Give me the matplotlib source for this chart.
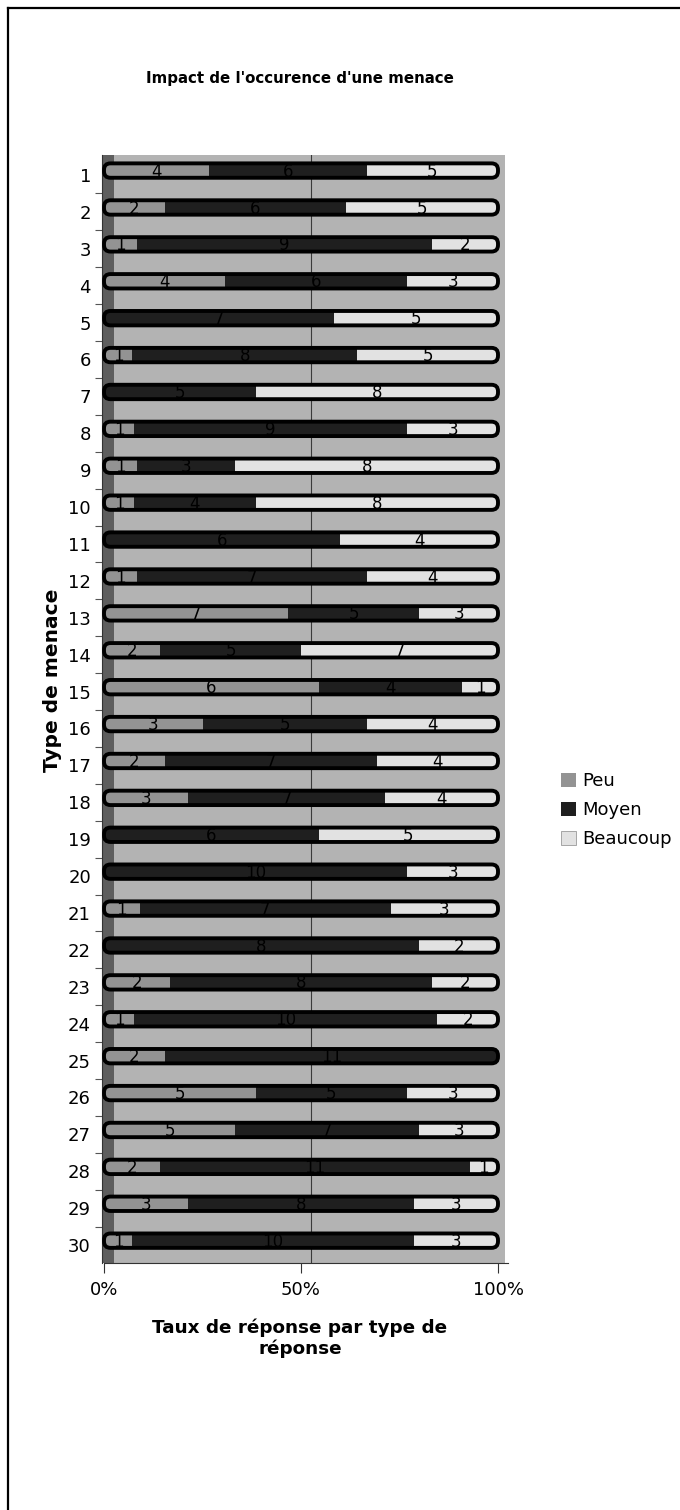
import matplotlib
matplotlib.use("Agg")
import matplotlib.pyplot as plt
from matplotlib.patches import FancyBboxPatch, Rectangle, Patch
from matplotlib.lines import Line2D

# Survey answers per threat type (counts of respondents)
types = list(range(1, 31))
peu = [4, 2, 1, 4, 0, 1, 0, 1, 1, 1, 0, 1, 7, 2, 6, 3, 2, 3, 0, 0, 1, 0, 2, 1, 2, 5, 5, 2, 3, 1]
moyen = [6, 6, 9, 6, 7, 8, 5, 9, 3, 4, 6, 7, 5, 5, 4, 5, 7, 7, 6, 10, 7, 8, 8, 10, 11, 5, 7, 11, 8, 10]
beaucoup = [5, 5, 2, 3, 5, 5, 8, 3, 8, 8, 4, 4, 3, 7, 1, 4, 4, 4, 5, 3, 3, 2, 2, 2, 0, 3, 3, 1, 3, 3]
series_names = ["Peu", "Moyen", "Beaucoup"]
x_ticks = [0, 0.5, 1.0]
x_ticklabels = ["0%", "50%", "100%"]

colors = ["#939393", "#1f1f1f", "#e2e2e2"]
wall_color = "#b3b3b3"
side_color = "#5e5e5e"

W, H, DPI = 680, 1510, 100
fig = plt.figure(figsize=(W / DPI, H / DPI), dpi=DPI)
fig.patch.set_facecolor("white")

# plot area in pixels
px_left, px_right = 102, 505
px_top, px_bottom = 155, 1263
x0_px, x1_px = 104, 498            # 0% and 100% of the bars
row1_px, row_step = 175, 36.9      # centre of category 1 and spacing

ax = fig.add_axes([px_left / W, (H - px_bottom) / H,
                   (px_right - px_left) / W, (px_bottom - px_top) / H])
xs = x1_px - x0_px
ax.set_xlim((px_left - x0_px) / xs, (px_right - x0_px) / xs)
ax.set_ylim(1 + (px_bottom - row1_px) / row_step, 1 + (px_top - row1_px) / row_step)
ax.set_facecolor("white")

ylo, yhi = ax.get_ylim()
depth = 10 / xs
# back wall and left side wall of the 3D box
ax.add_patch(Rectangle((depth, yhi), 1 + 0.5 * depth, ylo - yhi,
                       facecolor=wall_color, edgecolor="none", zorder=0))
ax.add_patch(Rectangle((ax.get_xlim()[0], yhi), depth - ax.get_xlim()[0], ylo - yhi,
                       facecolor=side_color, edgecolor="none", zorder=0.5))
ax.axvline(0.5 + depth, color="#3a3a3a", lw=0.8, zorder=0.6)

# stacked 100% bars
n = len(types)
totals = [peu[i] + moyen[i] + beaucoup[i] for i in range(n)]
fracs = [[s[i] / totals[i] for i in range(n)] for s in (peu, moyen, beaucoup)]
bar_h = 0.39
yoff = -0.12
ypos = [t + yoff for t in types]

radius = 6.5 / xs
aspect = xs / row_step
outlines = []
for i in range(n):
    ob = FancyBboxPatch((0, ypos[i] - bar_h / 2), 1, bar_h,
                        boxstyle=f"round,pad=0,rounding_size={radius}",
                        mutation_aspect=aspect,
                        facecolor="none", edgecolor="black", lw=2.8, zorder=4)
    ax.add_patch(ob)
    outlines.append(ob)

lefts = [0.0] * n
counts = (peu, moyen, beaucoup)
for k in range(3):
    bars = ax.barh(ypos, fracs[k], left=lefts, height=bar_h,
                   color=colors[k], edgecolor="none", zorder=3)
    for i, rect in enumerate(bars):
        rect.set_clip_path(outlines[i])
        if counts[k][i] > 0:
            ax.text(lefts[i] + fracs[k][i] / 2, ypos[i] + 0.03, str(counts[k][i]),
                    ha="center", va="center", fontsize=12, color="black", zorder=5)
    lefts = [lefts[i] + fracs[k][i] for i in range(n)]

# axes, ticks
for s in ("top", "right"):
    ax.spines[s].set_visible(False)
ax.spines["left"].set_bounds(yhi, ylo)
ax.spines["left"].set_position(("data", ax.get_xlim()[0]))
ax.spines["left"].set_color("#333333")
ax.spines["bottom"].set_color("#333333")
ax.spines["bottom"].set_bounds(0, 1 + depth)

ax.set_yticks(types)
ax.set_yticklabels([str(t) for t in types], fontsize=13)
ax.set_yticks([t + 0.5 for t in types[:-1]], minor=True)
ax.tick_params(axis="y", which="major", length=0, pad=8)
ax.tick_params(axis="y", which="minor", length=5, color="#555555", width=0.8)
ax.set_xticks(x_ticks)
ax.set_xticklabels(x_ticklabels, fontsize=13)
ax.tick_params(axis="x", length=7, color="#333333", pad=6)

# titles
fig.text(300 / W, 1 - 78 / H, "Impact de l'occurence d'une menace",
         ha="center", va="center", fontsize=10.8, fontweight="bold")
fig.text(300 / W, 1 - 1338 / H, "Taux de réponse par type de\nréponse",
         ha="center", va="center", fontsize=13.2, fontweight="bold",
         linespacing=1.15)
fig.text(52 / W, 1 - 680 / H, "Type de menace", rotation=90,
         ha="center", va="center", fontsize=14.5, fontweight="bold")

# legend
handles = [Patch(facecolor=colors[k], edgecolor="#999999" if k == 2 else "none",
                 lw=0.6) for k in range(3)]
fig.legend(handles, series_names, loc="upper left",
           bbox_to_anchor=(561 / W, 1 - 772 / H), frameon=False, fontsize=13,
           handlelength=0.85, handleheight=0.85, handletextpad=0.3,
           labelspacing=0.62, borderpad=0, borderaxespad=0)

# outer frame
fig.add_artist(Line2D([8 / W, 1], [1 - 8 / H, 1 - 8 / H], color="black", lw=1.6,
                      transform=fig.transFigure))
fig.add_artist(Line2D([8 / W, 8 / W], [1 - 8 / H, 0], color="black", lw=1.6,
                      transform=fig.transFigure))

fig.savefig("out.png", dpi=DPI)
